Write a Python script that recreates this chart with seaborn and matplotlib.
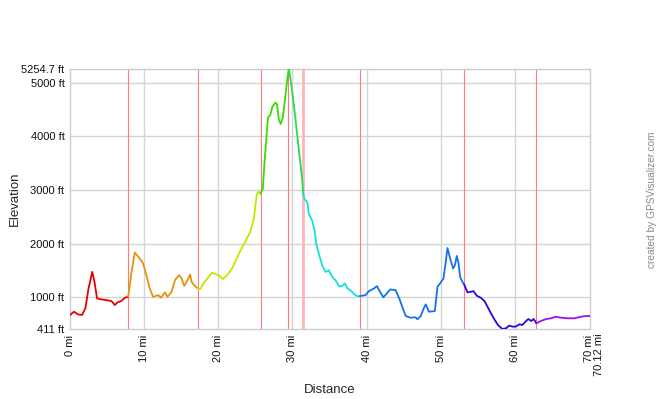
import numpy as np
import pandas as pd
import matplotlib
matplotlib.use("Agg")
import matplotlib.pyplot as plt
import matplotlib.transforms as mtransforms
import seaborn as sns

# ---- data (miles, feet) per coloured segment ----
seg1_mi = [0.0, 0.54, 1.08, 1.62, 2.07, 2.5, 3.0, 3.3, 3.65, 4.2, 4.9, 5.6, 6.04, 6.4, 6.9, 7.4, 7.84]
seg1_ft = [672, 733, 684, 672, 796, 1167, 1475, 1290, 981, 963, 950, 931, 857, 907, 931, 993, 1011]

seg2_mi = [7.84, 8.3, 8.74, 9.4, 9.86, 10.3, 10.75, 11.2, 11.9, 12.25, 12.8, 13.15, 13.7, 14.15, 14.7, 15.05, 15.4, 15.85, 16.2, 16.4, 16.75, 17.2]
seg2_ft = [1011, 1475, 1835, 1724, 1631, 1414, 1167, 1011, 1043, 993, 1093, 1011, 1104, 1321, 1414, 1352, 1215, 1321, 1427, 1290, 1228, 1167]

seg3_mi = [17.2, 17.57, 18.0, 18.7, 19.15, 19.7, 20.05, 20.6, 21.2, 21.85, 22.5, 23.0, 23.6, 24.3, 24.8, 25.0, 25.2, 25.45, 25.7]
seg3_ft = [1167, 1154, 1260, 1382, 1464, 1427, 1414, 1340, 1414, 1538, 1724, 1878, 2031, 2217, 2466, 2712, 2930, 2972, 2930]

seg4_mi = [25.7, 26.0, 26.26, 26.5, 26.7, 27.0, 27.3, 27.7, 27.9, 28.15, 28.4, 28.7, 29.05, 29.3, 29.5]
seg4_ft = [2930, 3022, 3579, 4011, 4351, 4395, 4555, 4629, 4600, 4321, 4228, 4351, 4754, 5063, 5254.7]

seg5_mi = [29.5, 29.6, 29.86, 30.2, 30.6, 30.95, 31.3, 31.45]
seg5_ft = [5254.7, 5185, 4939, 4568, 4072, 3640, 3208, 2930]

seg6_mi = [31.45, 31.6, 32.0, 32.2, 32.65, 32.97, 33.2, 33.55, 34.0, 34.46, 34.9, 35.36, 35.8, 36.26, 36.7, 37.07, 37.4, 37.8, 38.3, 38.7, 39.1]
seg6_ft = [2930, 2837, 2774, 2558, 2434, 2249, 2002, 1816, 1599, 1475, 1506, 1382, 1321, 1210, 1210, 1260, 1167, 1135, 1061, 1024, 1024]

seg7_mi = [39.1, 39.86, 40.3, 41.0, 41.4, 41.8, 42.25, 42.7, 43.2, 43.9, 44.4, 44.8, 45.27, 45.9, 46.6, 46.85, 47.3, 47.7, 47.97, 48.4, 49.2, 49.55, 49.9, 50.36, 50.7, 50.9, 51.26, 51.66, 51.9, 52.16, 52.4, 52.6, 52.9, 53.15]
seg7_ft = [1024, 1043, 1117, 1167, 1210, 1104, 1000, 1074, 1148, 1135, 981, 826, 653, 622, 629, 592, 653, 796, 870, 733, 746, 1197, 1260, 1352, 1692, 1920, 1724, 1538, 1599, 1772, 1631, 1382, 1290, 1241]

seg8_mi = [53.15, 53.6, 54.05, 54.4, 54.86, 55.4, 55.9, 56.3, 56.76, 57.2, 57.7, 58.3, 58.8, 59.2, 59.7, 60.1, 60.6, 61.0, 61.5, 61.8, 62.2, 62.5, 62.7, 62.9]
seg8_ft = [1241, 1093, 1104, 1117, 1030, 993, 931, 826, 703, 597, 486, 411, 425, 473, 455, 455, 499, 486, 560, 597, 560, 597, 560, 517]

seg9_mi = [62.9, 63.5, 64.2, 64.86, 65.5, 66.2, 67.1, 68.0, 68.9, 69.6, 70.12]
seg9_ft = [517, 560, 597, 610, 640, 622, 610, 610, 640, 653, 653]

seg_colors = ["#e60000", "#e8920c", "#c6e600", "#38dc00", "#1fe04a",
              "#12e2dc", "#1473ea", "#2a08dc", "#a010e8"]

marker_mi = [7.84, 17.2, 25.7, 29.46, 39.1, 53.15, 62.85]
pink_marker_mi = [31.42]

ytick_vals = [411, 1000, 2000, 3000, 4000, 5000, 5254.7]
ytick_labels = ["411 ft", "1000 ft", "2000 ft", "3000 ft", "4000 ft", "5000 ft", "5254.7 ft"]
xtick_vals = [0, 10, 20, 30, 40, 50, 60, 70]
xtick_labels = ["0 mi", "10 mi", "20 mi", "30 mi", "40 mi", "50 mi", "60 mi", "70 mi"]
total_mi = 70.12

segs = [(seg1_mi, seg1_ft), (seg2_mi, seg2_ft), (seg3_mi, seg3_ft), (seg4_mi, seg4_ft),
        (seg5_mi, seg5_ft), (seg6_mi, seg6_ft), (seg7_mi, seg7_ft), (seg8_mi, seg8_ft),
        (seg9_mi, seg9_ft)]
frames = []
for i, (m, f) in enumerate(segs):
    frames.append(pd.DataFrame({"mi": m, "ft": f, "seg": f"s{i}"}))
df = pd.concat(frames, ignore_index=True)

sns.set_theme(style="white")
plt.rcParams["font.family"] = ["Liberation Sans", "DejaVu Sans"]

fig = plt.figure(figsize=(6.59, 3.99), dpi=100)
ax = fig.add_axes([70 / 659, 1 - 329 / 399, 520 / 659, 260 / 399])

ax.set_xlim(0, total_mi)
ax.set_ylim(411, 5254.7)

# grid
for v in [1000, 2000, 3000, 4000, 5000]:
    ax.axhline(v, color="#d4d4d4", lw=1.0, zorder=0)
for v in [10, 20, 30, 40, 50, 60]:
    ax.axvline(v, color="#d4d4d4", lw=1.0, zorder=0)
for v in marker_mi:
    ax.axvline(v, color="#ff7b7b", lw=0.8, zorder=1)
for v in pink_marker_mi:
    ax.axvline(v, color="#ffb4b4", lw=2.0, zorder=1)

sns.lineplot(data=df, x="mi", y="ft", hue="seg", palette=seg_colors, sort=False,
             estimator=None, lw=1.3, legend=False, ax=ax, zorder=3)

for s in ax.spines.values():
    s.set_color("#cccccc")
    s.set_linewidth(1.0)

ax.set_yticks(ytick_vals)
ax.set_yticklabels(ytick_labels)
ax.set_xticks(xtick_vals)
ax.set_xticklabels(xtick_labels, rotation=90, va="top")
ax.tick_params(axis="both", length=0, labelsize=8, colors="#111111")
ax.tick_params(axis="x", pad=4)
ax.tick_params(axis="y", pad=4)

trans = mtransforms.offset_copy(ax.get_xaxis_transform(), fig=fig, x=4, y=-4, units="dots")
ax.text(total_mi, 0, "70.12 mi", transform=trans,
        rotation=90, ha="left", va="top", fontsize=8, color="#111111")

ax.set_xlabel("Distance", fontsize=9.5)
ax.set_ylabel("Elevation", fontsize=9.5)
ax.xaxis.set_label_coords(0.5, -0.21)
ax.yaxis.set_label_coords(-0.095, 0.5)

fig.text(652 / 659, 1 - 200 / 399, "created by GPSVisualizer.com", rotation=90,
         ha="center", va="center", fontsize=7.3, color="#8a8a8a")

fig.savefig("out.png", dpi=100, facecolor="white")
